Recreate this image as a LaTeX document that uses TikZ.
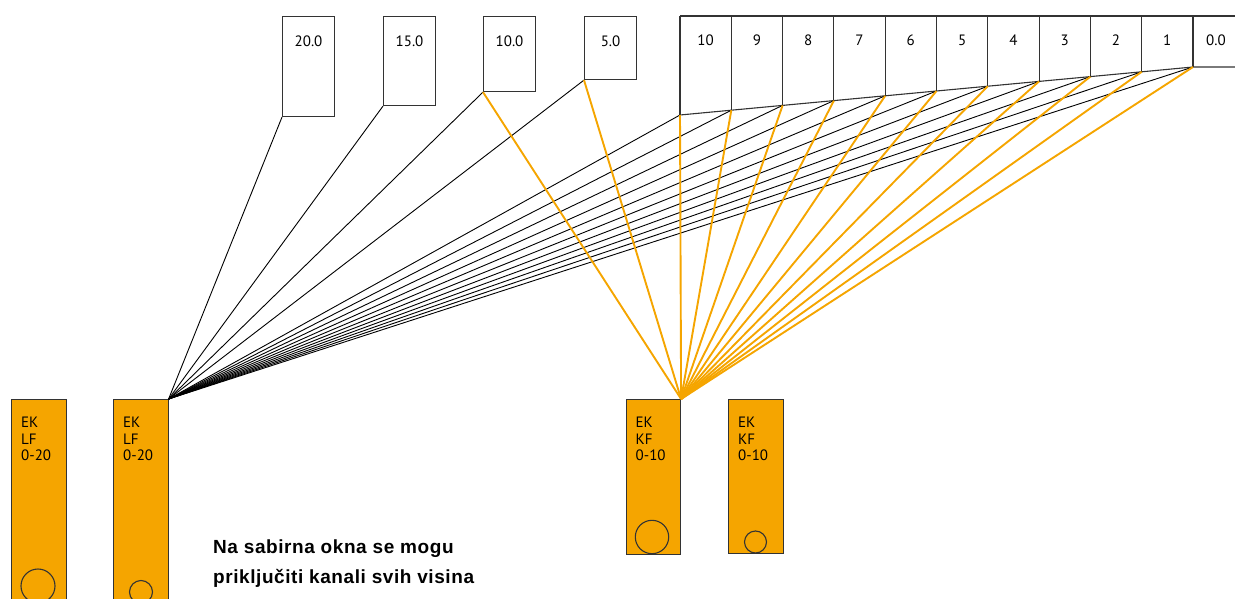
\documentclass[tikz,border=0pt]{standalone}
\usepackage{fontspec}
\setmainfont{PT Sans}
\newfontfamily\notefont[LetterSpace=3]{Liberation Sans}
\definecolor{channel}{RGB}{245,165,0}

\begin{document}
\begin{tikzpicture}[x=1pt,y=-1pt,
    hbox/.style={draw=black!80,line width=1.1pt,anchor=north west,minimum width=52pt,inner sep=0pt},
    rowline/.style={draw=black!80,line width=1.1pt},
    ekbox/.style={draw=black!80,fill=channel,line width=1.1pt,anchor=north west,minimum width=54.5pt,inner sep=0pt},
    lfline/.style={black,line width=0.9pt},
    kfline/.style={channel,line width=1.9pt},
    tag/.style={anchor=base,inner sep=0pt,font=\fontsize{15}{16.5}\selectfont},
    note/.style={anchor=base west,inner sep=0pt,font=\notefont\bfseries\fontsize{19}{30}\selectfont}]
  \useasboundingbox (0,0) rectangle (1235,599);

  % height boxes
  \foreach \n/\x/\h in {20/282/100,15/383/89,10/483/75,5/584/63}{
    \node[hbox,minimum height=\h pt] (h\n) at (\x,16) {};
    \node[tag] at ([yshift=-31pt]h\n.north) {\n.0};
  }

  % row of channel steps
  \foreach \k in {0,...,10}{
    \coordinate (t\k) at (680+51.3*\k,16);
    \coordinate (b\k) at (680+51.3*\k,115-4.8*\k);
  }
  \draw[rowline] (t0) -- (1240,16);
  \draw[rowline] (b0) \foreach \k in {1,...,10}{ -- (b\k)} -- (1240,67);
  \foreach \k in {0,...,10}
    \draw[rowline] (t\k) -- (b\k);
  \foreach \k [evaluate=\k as \t using int(10-\k)] in {0,...,9}
    \node[tag] at (705.6+51.3*\k,46) {\t};
  \node[tag] at (1216,46) {0.0};

  % shafts
  \foreach \n/\x/\h/\kind/\range/\cx/\cy/\r in {
      lf1/11/215/LF/0-20/38/586/17,
      lf2/113/215/LF/0-20/141/592/11.5,
      kf1/625.5/155/KF/0-10/652/537/16.7,
      kf2/728/154/KF/0-10/755.5/542/11}{
    \node[ekbox,minimum height=\h pt] (\n) at (\x,399) {};
    \draw[rowline] (\cx,\cy) circle (\r);
    \foreach \l/\dy in {EK/28,\kind/45,\range/61}
      \node[tag,anchor=base west] at ([xshift=10pt,yshift=-\dy pt]\n.north west) {\l};
  }

  % connections
  \foreach \p in {h20,h15,h10,h5}
    \draw[lfline] (lf2.north east) -- (\p.south west);
  \foreach \k in {0,...,10}
    \draw[lfline] (lf2.north east) -- (b\k);
  \foreach \p in {h10,h5}
    \draw[kfline] (kf1.north east) -- (\p.south west);
  \foreach \k in {0,...,10}
    \draw[kfline] (kf1.north east) -- (b\k);

  \node[note] (note1) at (213,553) {Na sabirna okna se mogu};
  \node[note] (note2) at ([yshift=-30pt]note1.base west) {priključiti kanali svih visina};
\end{tikzpicture}
\end{document}
